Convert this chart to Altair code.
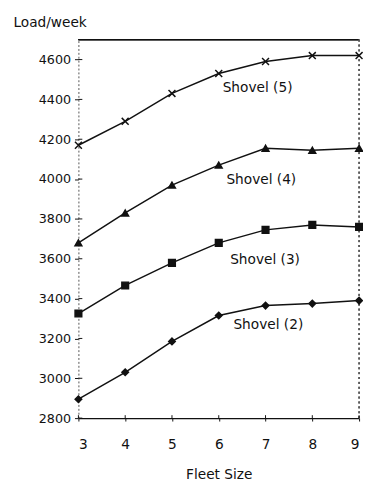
import altair as alt
import pandas as pd

fleet = [3, 4, 5, 6, 7, 8, 9]
shovel5 = [4170, 4290, 4430, 4530, 4590, 4620, 4620]
shovel4 = [3680, 3830, 3970, 4070, 4155, 4145, 4155]
shovel3 = [3325, 3466, 3579, 3680, 3745, 3770, 3760]
shovel2 = [2895, 3030, 3185, 3315, 3365, 3375, 3390]
series_names = ["Shovel (5)", "Shovel (4)", "Shovel (3)", "Shovel (2)"]

label_text = ["Shovel (5)", "Shovel (4)", "Shovel (3)", "Shovel (2)"]
label_x = [6.83, 6.91, 6.99, 7.06]
label_y = [4455, 3993, 3595, 3266]

y_ticks = [2800, 3000, 3200, 3400, 3600, 3800, 4000, 4200, 4400, 4600]

rows = []
for name, vals in zip(series_names, [shovel5, shovel4, shovel3, shovel2]):
    for f, v in zip(fleet, vals):
        rows.append({"series": name, "fleet": f, "load": v})
df = pd.DataFrame(rows)
labels = pd.DataFrame({"text": label_text, "x": label_x, "y": label_y})
yt = pd.DataFrame({"y": y_ticks})
xt = pd.DataFrame({"x": fleet})

W, H = 287, 387
FONT = "DejaVu Sans"
INK = "#111111"

x_scale = alt.Scale(domain=[3, 9], nice=False, zero=False)
y_scale = alt.Scale(domain=[2800, 4700], nice=False, zero=False)

x_enc = alt.X("fleet:Q", scale=x_scale, axis=alt.Axis(
    title="Fleet Size", values=fleet, format="d", grid=False,
    domainColor=INK, domainWidth=1.5, tickColor=INK, tickSize=3, tickWidth=1,
    labelFont=FONT, labelFontSize=14, labelColor=INK, labelPadding=17,
    titleFont=FONT, titleFontSize=14, titleFontWeight="normal", titleColor=INK,
    titleY=62, titleBaseline="alphabetic"))
y_enc = alt.Y("load:Q", scale=y_scale, axis=alt.Axis(
    title="Load/week", values=y_ticks, format="d", grid=False,
    domainColor="#555555", domainWidth=1, domainDash=[2, 2],
    tickColor=INK, tickSize=4, tickWidth=1,
    labelFont=FONT, labelFontSize=13, labelColor=INK, labelPadding=4,
    titleFont=FONT, titleFontSize=14, titleFontWeight="normal", titleColor=INK,
    titleAngle=0, titleAlign="left", titleBaseline="alphabetic",
    titleX=-67, titleY=-13))

base = alt.Chart(df)

lines = base.mark_line(color=INK, strokeWidth=1.5).encode(
    x=x_enc, y=y_enc, detail="series:N")

shape_paths = ["M-1,-1L1,1M-1,1L1,-1", "triangle-up", "square", "diamond"]
points = base.mark_point(filled=True, color=INK, stroke=INK, strokeWidth=1.5, opacity=1).encode(
    x=alt.X("fleet:Q", scale=x_scale),
    y=alt.Y("load:Q", scale=y_scale),
    shape=alt.Shape("series:N", scale=alt.Scale(domain=series_names, range=shape_paths), legend=None),
    size=alt.Size("series:N", scale=alt.Scale(domain=series_names, range=[50, 45, 45, 35]), legend=None),
)

text = alt.Chart(labels).mark_text(font=FONT, fontSize=14, color=INK, align="center", baseline="middle").encode(
    x=alt.X("x:Q", scale=x_scale), y=alt.Y("y:Q", scale=y_scale), text="text:N")

top_border = alt.Chart(labels).mark_rule(color=INK, strokeWidth=1.2).encode(
    x=alt.value(0), x2=alt.value(W), y=alt.value(0))
right_border = alt.Chart(labels).mark_rule(color="#555555", strokeWidth=1, strokeDash=[2, 3]).encode(
    x=alt.value(W), y=alt.value(0), y2=alt.value(H))

y_in_ticks = alt.Chart(yt).mark_rule(color=INK, strokeWidth=1).encode(
    x=alt.value(0), x2=alt.value(4), y=alt.Y("y:Q", scale=y_scale))
x_in_ticks = alt.Chart(xt).mark_rule(color=INK, strokeWidth=1).encode(
    x=alt.X("x:Q", scale=x_scale), y=alt.value(H - 3), y2=alt.value(H))

chart = alt.layer(top_border, right_border, y_in_ticks, x_in_ticks, lines, points, text).properties(
    width=W, height=H,
    padding={"left": 72, "top": 27, "right": 4, "bottom": 62},
    autosize=alt.AutoSizeParams(type="none"),
    background="white",
).configure_view(stroke=None)

chart.save("out.html", embed_options={"renderer": "svg", "actions": False})
